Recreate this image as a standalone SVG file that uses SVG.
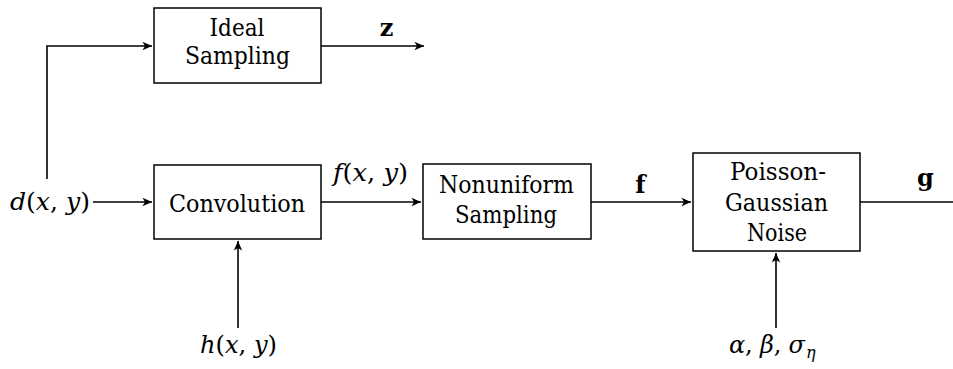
<svg xmlns="http://www.w3.org/2000/svg" width="953" height="369" viewBox="0 0 953 369">
<defs>
<marker id="arr" markerWidth="12" markerHeight="10" refX="10" refY="5" orient="auto" markerUnits="userSpaceOnUse">
<path d="M0.5,0.8 L10,5 L0.5,9.2 L3,5 Z" fill="#000"/>
</marker>
</defs>
<style>
.box{fill:#fff;stroke:#000;stroke-width:1.5}
.t{font-family:"DejaVu Serif","Liberation Serif",serif;font-size:24px;fill:#000;text-anchor:middle}
.i{font-style:italic}
.b{font-weight:bold}
.s{font-size:16px;text-anchor:start}
.c{fill:none;stroke:#000;stroke-width:1.6}
</style>
<rect width="953" height="369" fill="#fff"/>
<g id="connectors">
<path class="c" d="M47,179 V46 H152" marker-end="url(#arr)"/>
<path class="c" d="M321,46 H424" marker-end="url(#arr)"/>
<path class="c" d="M93,202 H152" marker-end="url(#arr)"/>
<path class="c" d="M321,202 H421" marker-end="url(#arr)"/>
<path class="c" d="M591,202 H691" marker-end="url(#arr)"/>
<path class="c" d="M860,202 H953"/>
<path class="c" d="M238,328 V241" marker-end="url(#arr)"/>
<path class="c" d="M776,328 V253" marker-end="url(#arr)"/>
</g>
<g id="ideal">
<rect class="box" x="154" y="8" width="167" height="75"/>
<text class="t" x="237" y="36" textLength="55" lengthAdjust="spacingAndGlyphs">Ideal</text>
<text class="t" x="237.5" y="64" textLength="105" lengthAdjust="spacingAndGlyphs">Sampling</text>
</g>
<g id="convolution">
<rect class="box" x="154" y="165" width="167" height="74"/>
<text class="t" x="237" y="212" textLength="136" lengthAdjust="spacingAndGlyphs">Convolution</text>
</g>
<g id="nonuniform">
<rect class="box" x="423" y="164" width="168" height="75"/>
<text class="t" x="506.5" y="193" textLength="135" lengthAdjust="spacingAndGlyphs">Nonuniform</text>
<text class="t" x="506" y="223" textLength="102" lengthAdjust="spacingAndGlyphs">Sampling</text>
</g>
<g id="poisson">
<rect class="box" x="693" y="153" width="167" height="98"/>
<text class="t" x="778" y="180" textLength="96" lengthAdjust="spacingAndGlyphs">Poisson-</text>
<text class="t" x="776.5" y="211" textLength="103" lengthAdjust="spacingAndGlyphs">Gaussian</text>
<text class="t" x="777" y="241" textLength="60" lengthAdjust="spacingAndGlyphs">Noise</text>
</g>
<g id="labels">
<text class="t" x="386.5" y="36"><tspan class="b">z</tspan></text>
<text class="t" x="50" y="210" textLength="80" lengthAdjust="spacingAndGlyphs"><tspan class="i">d</tspan>(<tspan class="i">x</tspan>, <tspan class="i">y</tspan>)</text>
<text class="t" x="370.5" y="181" textLength="75" lengthAdjust="spacingAndGlyphs"><tspan class="i">f</tspan>(<tspan class="i">x</tspan>, <tspan class="i">y</tspan>)</text>
<text class="t" x="238.5" y="353" textLength="77" lengthAdjust="spacingAndGlyphs"><tspan class="i">h</tspan>(<tspan class="i">x</tspan>, <tspan class="i">y</tspan>)</text>
<text class="t" x="640.5" y="193"><tspan class="b">f</tspan></text>
<text class="t" x="925.5" y="186"><tspan class="b">g</tspan></text>
<text class="t" x="767" y="353" textLength="76" lengthAdjust="spacing"><tspan class="i">α</tspan>, <tspan class="i">β</tspan>, <tspan class="i">σ</tspan></text>
<text class="t i s" x="806" y="358">η</text>
</g>
</svg>
